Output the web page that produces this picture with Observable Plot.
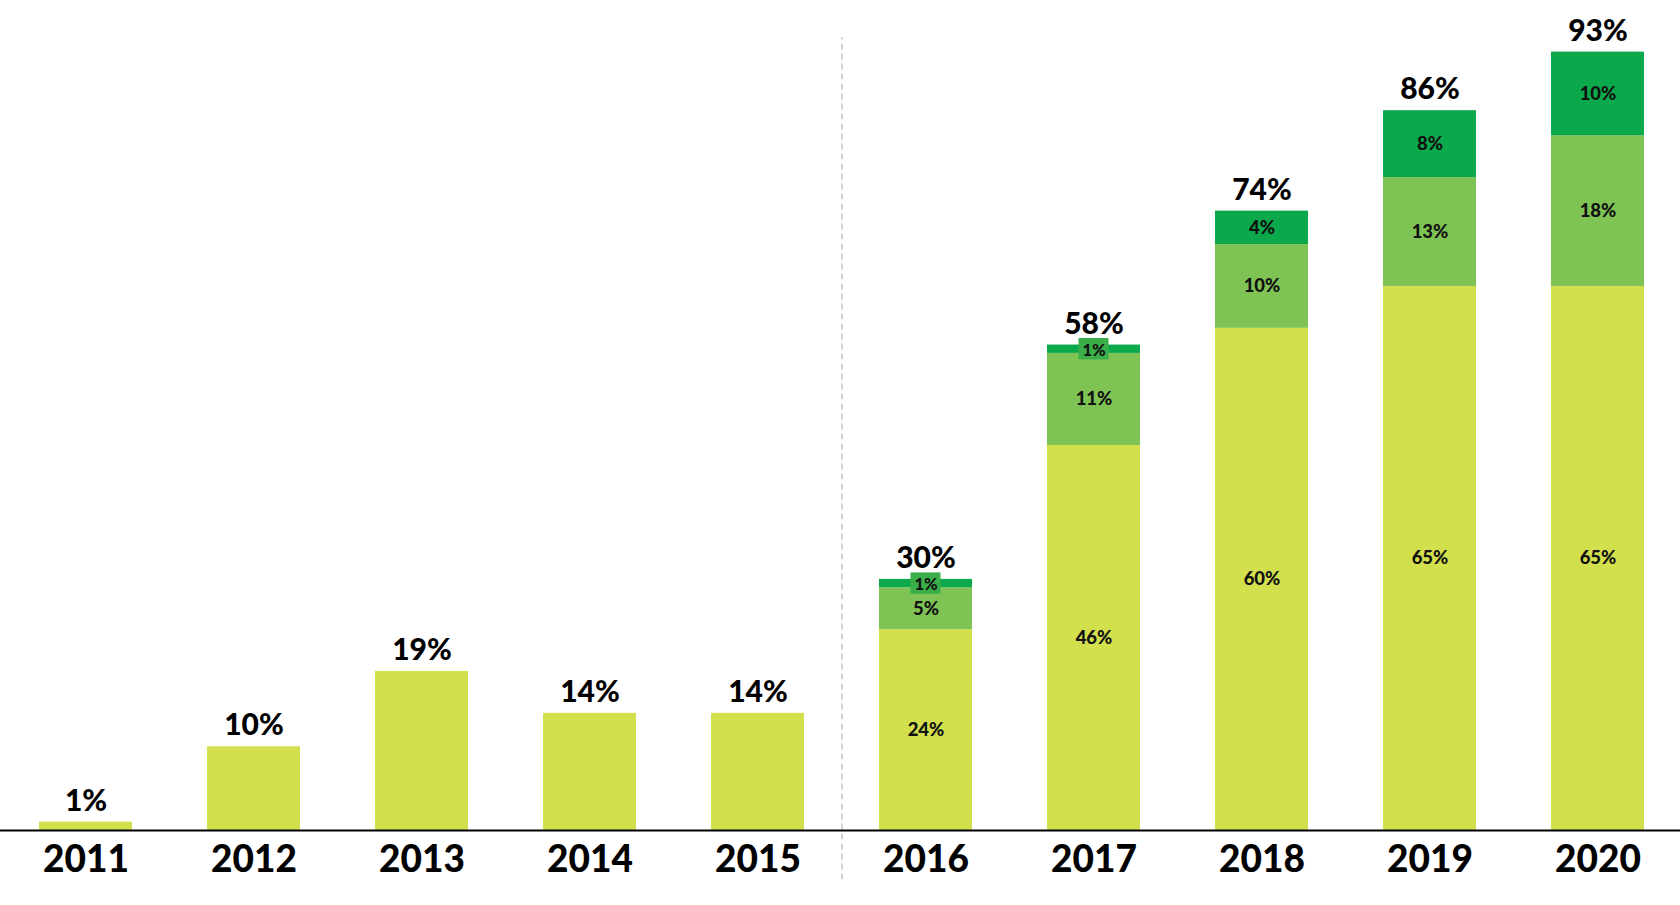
<!DOCTYPE html>
<html>
<head>
<meta charset="utf-8">
<script src="https://cdn.jsdelivr.net/npm/d3@7"></script>
<script src="https://cdn.jsdelivr.net/npm/@observablehq/plot@0.6"></script>
<style>
  html, body { margin: 0; padding: 0; background: #fff; }
  #chart { width: 1680px; height: 905px; overflow: hidden; }
  svg { display: block; }
</style>
</head>
<body>
<div id="chart"></div>
<script>
const years = ["2011","2012","2013","2014","2015","2016","2017","2018","2019","2020"];
const totals = [1, 10, 19, 14, 14, 30, 58, 74, 86, 93];
const baseShare = [1, 10, 19, 14, 14, 24, 46, 60, 65, 65];
const midShare = [0, 0, 0, 0, 0, 5, 11, 10, 13, 18];
const topShare = [0, 0, 0, 0, 0, 1, 1, 4, 8, 10];
const series = ["base", "mid", "top"];
const colors = ["#d3e04e", "#7fc355", "#0ba94b"];

// build stacked rows
const rows = [];
years.forEach((yr, i) => {
  const vals = [baseShare[i], midShare[i], topShare[i]];
  let acc = 0;
  vals.forEach((v, k) => {
    if (v > 0) {
      rows.push({year: yr, series: series[k], value: v, y1: acc, y2: acc + v, mid: acc + v / 2, labelled: i >= 5});
    }
    acc += v;
  });
});
const totalRows = years.map((yr, i) => ({year: yr, total: totals[i], label: totals[i] + "%"}));
const segLabels = rows.filter(d => d.labelled);
const tinyRows = segLabels.filter(d => d.value <= 1);
const normalLabels = segLabels.filter(d => d.value > 1);

const rangeX = [38.6, 1643.7];
const padInner = 0.446;
const step = (rangeX[1] - rangeX[0]) / (years.length - padInner);
const font = "Lato, 'Open Sans', sans-serif";

const chart = Plot.plot({
  width: 1680,
  height: 905,
  marginLeft: 0,
  marginRight: 0,
  marginTop: 51.6,
  marginBottom: 75,
  style: {fontFamily: font, color: "#000", background: "#fff"},
  x: {type: "band", domain: years, range: rangeX, paddingInner: padInner, paddingOuter: 0, label: null},
  y: {domain: [0, 93], axis: null},
  color: {domain: series, range: colors},
  marks: [
    Plot.ruleX(["2015"], {x: d => d, dx: step / 2, y1: -5.9, y2: 94.7, stroke: "#b5b5b5", strokeWidth: 1.2, strokeDasharray: "6,4"}),
    Plot.barY(rows, {x: "year", y1: "y1", y2: "y2", fill: "series"}),
    Plot.barY(tinyRows, {x: "year", y1: "y1", y2: "y2", fill: "#3aae48", insetLeft: 31.5, insetRight: 31.5, insetTop: -6.5, insetBottom: -6.5}),
    Plot.text(normalLabels, {x: "year", y: "mid", text: d => d.value + "%", fontSize: 18.5, fontWeight: 900, fill: "#111"}),
    Plot.text(tinyRows, {x: "year", y: "mid", dy: 1, text: d => d.value + "%", fontSize: 16.5, fontWeight: 900, fill: "#111"}),
    Plot.text(totalRows, {x: "year", y: "total", text: "label", dy: -21, fontSize: 30, fontWeight: 900, fill: "#000"}),
    Plot.ruleY([0], {stroke: "#000", strokeWidth: 2}),
    Plot.axisX({tickSize: 0, tickPadding: 15, fontSize: 37, fontWeight: 900, label: null, fill: "#000"})
  ]
});
document.getElementById("chart").appendChild(chart);
</script>
</body>
</html>
